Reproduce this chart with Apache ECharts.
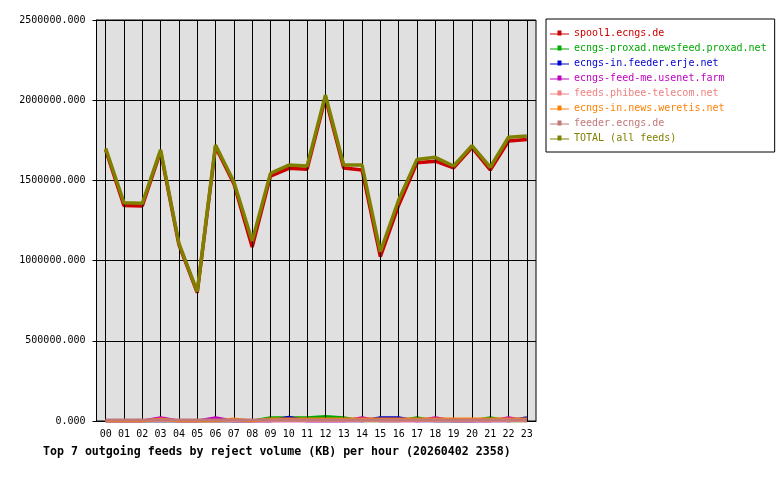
<!DOCTYPE html>
<html>
<head>
<meta charset="utf-8">
<title>reject volume</title>
<script src="https://cdn.jsdelivr.net/npm/echarts@6/dist/echarts.min.js"></script>
<style>
  html, body { margin: 0; padding: 0; background: #fff; }
  #chart { width: 780px; height: 480px; }
</style>
</head>
<body>
<div id="chart"></div>
<script>
// hours of the day
const hours = ['00','01','02','03','04','05','06','07','08','09','10','11',
               '12','13','14','15','16','17','18','19','20','21','22','23']

// reject volume (KB) per feed
const spool1   = [1690000,1343000,1340000,1680000,1100000,800000,1710000,1480000,1085000,1527000,1575000,1570000,
                  2015000,1577000,1565000,1025000,1345000,1610000,1620000,1578000,1705000,1565000,1745000,1755000]
const proxad   = [0,0,0,0,0,0,0,0,0,20000,20000,20000,28000,20000,0,0,0,20000,0,0,0,20000,0,0]
const erje     = [0,0,0,0,0,0,0,0,0,0,24000,0,0,0,0,20000,20000,0,0,0,0,0,0,20000]
const usenet   = [0,0,0,20000,0,0,20000,0,0,0,0,0,0,0,20000,0,0,0,20000,0,0,0,20000,0]
const phibee   = [0,0,0,0,0,0,0,0,0,0,0,0,0,0,0,0,0,0,0,0,0,0,0,0]
const weretis  = [0,0,0,12000,0,0,0,12000,0,12000,12000,12000,12000,12000,12000,12000,12000,12000,12000,12000,12000,12000,12000,12000]
const feederDe = [6000,6000,6000,6000,6000,6000,6000,6000,6000,6000,6000,6000,6000,6000,6000,6000,6000,6000,6000,6000,6000,6000,6000,6000]
const total    = [1700000,1361000,1357000,1690000,1108000,806000,1721000,1492000,1122000,1544000,1596000,1590000,
                  2032000,1596000,1596000,1055000,1378000,1631000,1644000,1590000,1716000,1582000,1769000,1777000]

const feedNames = ['spool1.ecngs.de','ecngs-proxad.newsfeed.proxad.net','ecngs-in.feeder.erje.net',
                   'ecngs-feed-me.usenet.farm','feeds.phibee-telecom.net','ecngs-in.news.weretis.net',
                   'feeder.ecngs.de','TOTAL (all feeds)']
const feedColors = ['#cc0000','#00a800','#0000d0','#c000c0','#f08080','#ff8000','#c07878','#808000']
const feedData = [spool1, proxad, erje, usenet, phibee, weretis, feederDe, total]

const titleText = 'Top 7 outgoing feeds by reject volume (KB) per hour (20260402 2358)'

const mono = 'DejaVu Sans Mono'
const chart = echarts.init(document.getElementById('chart'), null, { renderer: 'canvas' })

const legendIcon = 'path://M0,4h7.5v-3h4v3h7.5v1h-7.5v1h-4v-1h-7.5z'

const series = feedNames.map((name, i) => {
    const big = (i === 0 || i === feedNames.length - 1)
    return {
        name: name,
        type: 'line',
        data: feedData[i],
        symbol: 'none',
        color: feedColors[i],
        lineStyle: { width: big ? 3.5 : 3, color: feedColors[i] },
        z: 3 + i
    }
})

// helper series only carrying the vertical grid lines through each hour
series.unshift({
    name: 'hour-grid',
    type: 'line',
    data: [],
    z: 1,
    silent: true,
    markLine: {
        silent: true,
        symbol: 'none',
        label: { show: false },
        animation: false,
        lineStyle: { color: '#000', width: 1, type: 'solid' },
        emphasis: { disabled: true },
        data: hours.map(h => ({ xAxis: h }))
    }
})

const option = {
    animation: false,
    backgroundColor: '#ffffff',
    textStyle: { fontFamily: mono },
    title: {
        text: titleText,
        left: 43,
        top: 446,
        padding: 0,
        textStyle: { fontFamily: mono, fontSize: 11.6, fontWeight: 'bold', color: '#000' }
    },
    legend: {
        orient: 'vertical',
        left: 546,
        top: 19,
        padding: [6.5, 8, 6.5, 4],
        backgroundColor: '#ffffff',
        borderColor: '#000',
        borderWidth: 1,
        borderRadius: 0,
        itemWidth: 19,
        itemHeight: 7,
        itemGap: 0,
        icon: legendIcon,
        data: feedNames.map((n, i) => ({ name: n, textStyle: { color: feedColors[i] } })),
        textStyle: { fontFamily: mono, fontSize: 10, lineHeight: 15 }
    },
    grid: {
        left: 96.5,
        top: 20,
        right: 244,
        bottom: 59,
        show: true,
        backgroundColor: '#e0e0e0',
        borderColor: '#000',
        borderWidth: 1
    },
    xAxis: {
        type: 'category',
        data: hours,
        boundaryGap: true,
        axisLine: { lineStyle: { color: '#000', width: 1 } },
        axisTick: { alignWithLabel: true, length: 4, lineStyle: { color: '#000' } },
        axisLabel: { fontFamily: mono, fontSize: 10, color: '#000', margin: 8, interval: 0 },
        splitLine: { show: false }
    },
    yAxis: {
        type: 'value',
        min: 0,
        max: 2500000,
        interval: 500000,
        axisLine: { show: true, lineStyle: { color: '#000' } },
        axisTick: { show: true, length: 4, lineStyle: { color: '#000' } },
        axisLabel: {
            fontFamily: mono, fontSize: 10, color: '#000', margin: 11,
            formatter: v => v.toFixed(3)
        },
        splitLine: { show: true, lineStyle: { color: '#000', width: 1 } }
    },
    series: series
}

chart.setOption(option)
</script>
</body>
</html>
